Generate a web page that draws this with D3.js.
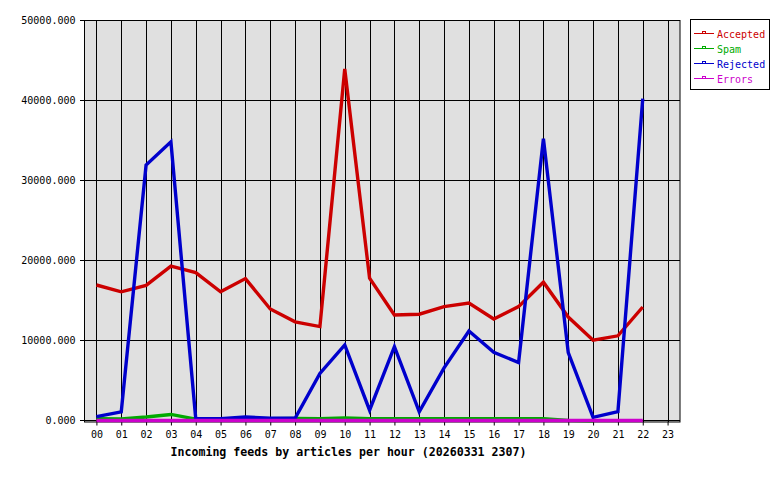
<!DOCTYPE html>
<html>
<head>
<meta charset="utf-8">
<script src="https://cdn.jsdelivr.net/npm/d3@7"></script>
<style>
  body { margin: 0; background: #fff; }
  text { font-family: "DejaVu Sans Mono", "Liberation Mono", monospace; }
</style>
</head>
<body>
<div id="chart"></div>
<script>
const hours = ["00", "01", "02", "03", "04", "05", "06", "07", "08", "09", "10", "11",
  "12", "13", "14", "15", "16", "17", "18", "19", "20", "21", "22", "23"];

const accepted = [17000, 16150, 16950, 19350, 18550, 16150, 17800, 14000, 12400, 11800, 44000, 17850,
  13250, 13350, 14300, 14750, 12750, 14300, 17350, 13000, 10100, 10650, 14250];
const spam = [280, 250, 500, 820, 230, 200, 290, 290, 330, 290, 380, 290,
  290, 290, 290, 290, 290, 290, 290, 80, 0];
const rejected = [540, 1150, 32000, 34900, 290, 290, 500, 350, 350, 5950, 9500, 1350,
  9300, 1150, 6650, 11250, 8600, 7300, 35300, 8550, 460, 1160, 40300];
const errors = [60, 60, 60, 60, 60, 60, 60, 60, 60, 60, 60, 60,
  60, 60, 60, 60, 60, 60, 60, 60, 60, 60, 60];

const seriesNames = ["Accepted", "Spam", "Rejected", "Errors"];
const seriesColors = ["#cc0000", "#00aa00", "#0000cc", "#cc00cc"];
const yTicks = [0, 10000, 20000, 30000, 40000, 50000];
const title = "Incoming feeds by articles per hour (20260331 2307)";

const W = 780, H = 480;
const plot = { left: 84, right: 680, top: 21, bottom: 421 };

const svg = d3.select("#chart").append("svg")
  .attr("width", W)
  .attr("height", H);

const x = d3.scaleLinear()
  .domain([-0.5, 23.5])
  .range([plot.left, plot.right]);
const y = d3.scaleLinear()
  .domain([0, 50000])
  .range([plot.bottom, plot.top]);

const px = v => Math.round(v) + 0.5;

// plot background
svg.append("rect")
  .attr("x", plot.left)
  .attr("y", plot.top - 1)
  .attr("width", plot.right - plot.left)
  .attr("height", plot.bottom - plot.top + 2)
  .attr("fill", "#e0e0e0");

// grid
svg.append("g").selectAll("line")
  .data(hours)
  .enter().append("line")
  .attr("x1", (d, i) => px(x(i)))
  .attr("x2", (d, i) => px(x(i)))
  .attr("y1", plot.top - 1)
  .attr("y2", plot.bottom + 1)
  .attr("stroke", "#000");

svg.append("g").selectAll("line")
  .data(yTicks)
  .enter().append("line")
  .attr("x1", plot.left)
  .attr("x2", plot.right)
  .attr("y1", d => px(y(d)) - 1)
  .attr("y2", d => px(y(d)) - 1)
  .attr("stroke", "#000");

// frame
svg.append("rect")
  .attr("x", plot.left + 0.5)
  .attr("y", plot.top - 0.5)
  .attr("width", plot.right - plot.left - 0.5)
  .attr("height", plot.bottom - plot.top + 1.5)
  .attr("fill", "none")
  .attr("stroke", "#000");

// axes
const yAxis = d3.axisLeft(y)
  .tickValues(yTicks)
  .tickSize(4)
  .tickPadding(5)
  .tickFormat(d3.format(".3f"));
const yg = svg.append("g")
  .attr("transform", "translate(" + (plot.left + 0.5) + ",-1)")
  .call(yAxis);

const xAxis = d3.axisBottom(d3.scaleLinear().domain([-0.5, 23.5]).range([plot.left, plot.right]))
  .tickValues(d3.range(hours.length))
  .tickSize(4)
  .tickPadding(5)
  .tickFormat(i => hours[i]);
const xg = svg.append("g")
  .attr("transform", "translate(0," + (plot.bottom + 0.5) + ")")
  .call(xAxis);

[yg, xg].forEach(g => {
  g.select(".domain").remove();
  g.selectAll("line").attr("stroke", "#000");
  g.selectAll("text")
    .attr("fill", "#000")
    .style("font-size", "10px")
    .style("font-family", "DejaVu Sans Mono, monospace");
});
yg.selectAll(".tick line").attr("transform", "translate(-0.5,0)");

// series lines
const allSeries = [accepted, spam, rejected, errors];
const line = d3.line()
  .x((d, i) => x(i))
  .y(d => y(d));

svg.append("g").selectAll("path")
  .data(allSeries)
  .enter().append("path")
  .attr("d", d => line(d))
  .attr("fill", "none")
  .attr("stroke", (d, i) => seriesColors[i])
  .attr("stroke-width", 3.4)
  .attr("stroke-linejoin", "miter");

// title
svg.append("text")
  .attr("x", 348.5)
  .attr("y", 456)
  .attr("text-anchor", "middle")
  .style("font-size", "11.6px")
  .style("font-weight", "bold")
  .text(title);

// legend
const legend = svg.append("g");
legend.append("rect")
  .attr("x", 690.5)
  .attr("y", 19.5)
  .attr("width", 79)
  .attr("height", 70)
  .attr("fill", "#fff")
  .attr("stroke", "#000");

const item = legend.selectAll("g.item")
  .data(seriesNames)
  .enter().append("g")
  .attr("class", "item")
  .attr("transform", (d, i) => "translate(0," + (33.5 + i * 15) + ")");

item.append("line")
  .attr("x1", 694)
  .attr("x2", 714)
  .attr("y1", 0)
  .attr("y2", 0)
  .attr("stroke", (d, i) => seriesColors[i]);
item.append("rect")
  .attr("x", 702.5)
  .attr("y", -2)
  .attr("width", 3)
  .attr("height", 2)
  .attr("fill", "none")
  .attr("stroke", (d, i) => seriesColors[i]);
item.append("text")
  .attr("x", 717)
  .attr("y", 4)
  .attr("fill", (d, i) => seriesColors[i])
  .style("font-size", "10px")
  .text(d => d);
</script>
</body>
</html>
